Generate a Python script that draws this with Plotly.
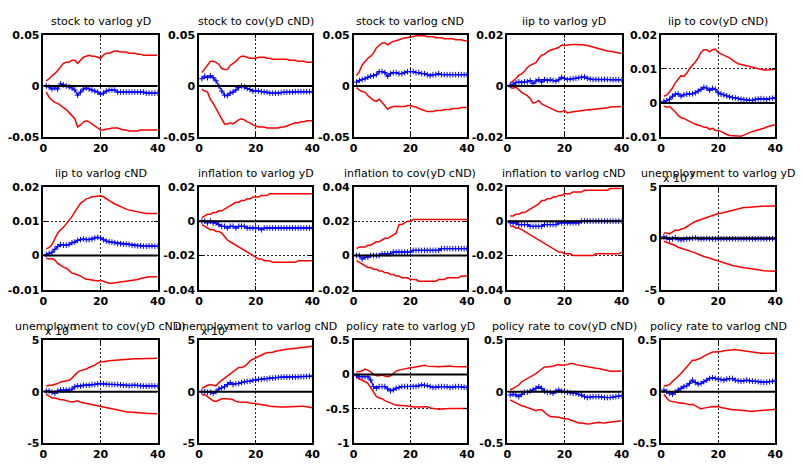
import plotly.graph_objects as go

horizons = list(range(1, 41))

titles = [
    "stock to varlog yD", "stock to cov(yD cND)", "stock to varlog cND",
    "iip to varlog yD", "iip to cov(yD cND)",
    "iip to varlog cND", "inflation to varlog yD", "inflation to cov(yD cND)",
    "inflation to varlog cND", "unemployment to varlog yD",
    "unemployment to cov(yD cND)", "unemployment to varlog cND",
    "policy rate to varlog yD", "policy rate to cov(yD cND)", "policy rate to varlog cND",
]

# ---- panel 1: stock to varlog yD
U1 = [0.005,0.007,0.010,0.012,0.015,0.019,0.022,0.023,0.023,0.025,0.025,0.022,0.025,0.028,0.029,0.030,0.029,0.029,0.028,0.027,0.030,0.032,0.032,0.033,0.034,0.034,0.033,0.033,0.033,0.032,0.032,0.032,0.031,0.031,0.030,0.030,0.030,0.030,0.030,0.030]
L1 = [-0.006,-0.011,-0.014,-0.016,-0.017,-0.019,-0.021,-0.023,-0.026,-0.029,-0.032,-0.040,-0.038,-0.035,-0.034,-0.035,-0.037,-0.039,-0.041,-0.043,-0.043,-0.042,-0.042,-0.041,-0.041,-0.041,-0.042,-0.043,-0.043,-0.044,-0.044,-0.044,-0.044,-0.043,-0.043,-0.043,-0.043,-0.043,-0.043,-0.043]
B1 = [0.000,-0.001,-0.003,-0.002,-0.003,0.002,0.001,0.000,-0.001,-0.002,-0.004,-0.009,-0.006,-0.003,-0.002,-0.003,-0.004,-0.005,-0.006,-0.008,-0.007,-0.005,-0.004,-0.004,-0.004,-0.006,-0.006,-0.006,-0.006,-0.006,-0.006,-0.006,-0.006,-0.006,-0.006,-0.007,-0.007,-0.007,-0.007,-0.007]
# ---- panel 2: stock to cov(yD cND)
U2 = [0.013,0.017,0.021,0.024,0.024,0.023,0.021,0.017,0.016,0.016,0.020,0.022,0.024,0.027,0.029,0.029,0.028,0.027,0.027,0.027,0.028,0.028,0.028,0.027,0.027,0.026,0.026,0.026,0.026,0.026,0.026,0.025,0.025,0.025,0.024,0.024,0.024,0.023,0.023,0.023]
L2 = [-0.003,-0.005,-0.006,-0.013,-0.017,-0.022,-0.028,-0.033,-0.037,-0.037,-0.036,-0.037,-0.035,-0.033,-0.032,-0.033,-0.035,-0.036,-0.038,-0.039,-0.040,-0.040,-0.040,-0.041,-0.041,-0.041,-0.041,-0.041,-0.040,-0.040,-0.039,-0.038,-0.037,-0.036,-0.036,-0.035,-0.035,-0.034,-0.034,-0.034]
B2 = [0.007,0.0095,0.008,0.010,0.008,0.005,0.000,-0.005,-0.009,-0.0095,-0.007,-0.006,-0.004,-0.0015,0.000,-0.001,-0.0025,-0.0035,-0.005,-0.0045,-0.005,-0.0055,-0.006,-0.006,-0.007,-0.007,-0.007,-0.007,-0.0065,-0.006,-0.006,-0.006,-0.006,-0.0055,-0.0055,-0.0055,-0.0055,-0.0055,-0.0055,-0.0057]
# ---- panel 3: stock to varlog cND
U3 = [0.010,0.014,0.0205,0.024,0.027,0.029,0.032,0.037,0.040,0.042,0.042,0.040,0.042,0.0435,0.044,0.045,0.046,0.047,0.047,0.048,0.048,0.049,0.049,0.049,0.049,0.048,0.048,0.048,0.047,0.047,0.047,0.046,0.046,0.046,0.046,0.045,0.045,0.045,0.044,0.044]
L3 = [-0.0015,-0.004,-0.0054,-0.006,-0.0095,-0.012,-0.014,-0.015,-0.013,-0.016,-0.019,-0.0227,-0.021,-0.020,-0.020,-0.020,-0.020,-0.020,-0.019,-0.019,-0.020,-0.0205,-0.022,-0.023,-0.024,-0.025,-0.025,-0.025,-0.024,-0.024,-0.024,-0.023,-0.023,-0.023,-0.022,-0.022,-0.022,-0.021,-0.021,-0.021]
B3 = [0.0038,0.0054,0.0063,0.007,0.0085,0.0095,0.010,0.011,0.014,0.014,0.013,0.0095,0.012,0.013,0.013,0.012,0.012,0.013,0.014,0.014,0.014,0.013,0.013,0.012,0.012,0.011,0.010,0.011,0.011,0.012,0.011,0.011,0.011,0.011,0.011,0.011,0.011,0.011,0.011,0.011]
# ---- panel 4: iip to varlog yD
U4 = [0.001,0.0019,0.0029,0.0042,0.0047,0.0057,0.0072,0.008,0.0085,0.0091,0.0108,0.012,0.0123,0.0133,0.0139,0.0142,0.0146,0.015,0.016,0.0158,0.016,0.0162,0.0162,0.0162,0.0162,0.0161,0.016,0.0158,0.0155,0.0152,0.0148,0.0145,0.014,0.0138,0.0136,0.0135,0.0133,0.0131,0.0129,0.0127]
L4 = [-0.0006,-0.0009,-0.0004,-0.0016,-0.0025,-0.0032,-0.0038,-0.005,-0.0067,-0.0063,-0.0057,-0.007,-0.0076,-0.0082,-0.0085,-0.0092,-0.0097,-0.0101,-0.0101,-0.0095,-0.0105,-0.0103,-0.0101,-0.0099,-0.0097,-0.0095,-0.0094,-0.0093,-0.0093,-0.0092,-0.0091,-0.009,-0.0089,-0.0087,-0.0085,-0.0082,-0.0081,-0.0081,-0.008,-0.008]
B4 = [0.0003,0.0006,0.0013,0.0016,0.0013,0.0016,0.0016,0.0021,0.0009,0.0019,0.0025,0.0015,0.0025,0.0021,0.0024,0.0021,0.0019,0.0024,0.0034,0.0029,0.0025,0.0027,0.0028,0.003,0.0032,0.0034,0.0035,0.003,0.0027,0.0025,0.0026,0.0025,0.0025,0.0026,0.0025,0.0025,0.0024,0.0025,0.0024,0.0024]
# ---- panel 5: iip to cov(yD cND)
U5 = [0.002,0.0024,0.0033,0.0044,0.0059,0.0071,0.008,0.0078,0.0087,0.0101,0.011,0.012,0.0132,0.0148,0.0156,0.0156,0.015,0.0156,0.0158,0.0148,0.0144,0.0139,0.0136,0.0132,0.0125,0.012,0.0115,0.0113,0.011,0.0108,0.0106,0.0104,0.0103,0.0101,0.0099,0.0097,0.0097,0.0097,0.0098,0.0099]
L5 = [-0.0009,-0.0012,-0.001,-0.0017,-0.0026,-0.0036,-0.0043,-0.0045,-0.005,-0.0055,-0.0058,-0.0062,-0.0064,-0.0067,-0.0071,-0.0071,-0.0077,-0.0074,-0.008,-0.008,-0.0083,-0.0088,-0.0092,-0.0095,-0.0096,-0.0096,-0.0096,-0.0097,-0.0094,-0.009,-0.0087,-0.0083,-0.0081,-0.0079,-0.0077,-0.0074,-0.007,-0.0067,-0.0065,-0.0064]
B5 = [0.0005,0.0007,0.0011,0.002,0.0026,0.0027,0.002,0.0024,0.0026,0.0027,0.0027,0.003,0.0035,0.004,0.0046,0.0044,0.0037,0.0043,0.004,0.003,0.0026,0.0024,0.0021,0.0018,0.0016,0.0015,0.0013,0.0011,0.001,0.0009,0.0008,0.0008,0.0011,0.0012,0.0013,0.0012,0.0011,0.0013,0.0014,0.0016]
# ---- panel 6: iip to varlog cND
U6 = [0.002,0.0023,0.0032,0.0048,0.0065,0.0075,0.0082,0.0092,0.0101,0.0113,0.0127,0.0141,0.0152,0.0158,0.0165,0.0167,0.0171,0.0172,0.0174,0.0174,0.0171,0.0165,0.016,0.0155,0.015,0.0146,0.0141,0.0138,0.0135,0.0132,0.013,0.0129,0.0127,0.0124,0.0123,0.0122,0.0122,0.0122,0.0122,0.0122]
L6 = [-0.0008,-0.001,-0.0009,-0.0013,-0.0023,-0.0029,-0.0034,-0.0037,-0.0044,-0.0051,-0.0053,-0.0056,-0.006,-0.0065,-0.0069,-0.007,-0.0072,-0.0072,-0.0074,-0.0072,-0.0075,-0.0079,-0.0081,-0.0081,-0.008,-0.0079,-0.0078,-0.0077,-0.0076,-0.0075,-0.0073,-0.0072,-0.007,-0.0067,-0.0065,-0.0062,-0.0062,-0.0062,-0.0062,-0.0062]
B6 = [0.0003,0.0006,0.0009,0.0018,0.0026,0.0032,0.003,0.003,0.0032,0.0037,0.0039,0.0044,0.0046,0.0048,0.0046,0.0046,0.0048,0.0051,0.0053,0.0051,0.0046,0.0042,0.004,0.0039,0.0037,0.0035,0.0034,0.0033,0.0033,0.0032,0.003,0.0029,0.0028,0.0028,0.0027,0.0027,0.0028,0.0028,0.0027,0.0027]
# ---- panel 7: inflation to varlog yD
U7 = [0.002,0.003,0.004,0.004,0.005,0.005,0.006,0.006,0.007,0.008,0.009,0.010,0.011,0.011,0.012,0.012,0.013,0.013,0.014,0.014,0.014,0.015,0.015,0.015,0.016,0.016,0.016,0.016,0.016,0.016,0.016,0.016,0.016,0.016,0.016,0.016,0.016,0.016,0.016,0.016]
L7 = [-0.002,-0.003,-0.004,-0.005,-0.005,-0.006,-0.006,-0.007,-0.009,-0.011,-0.012,-0.013,-0.014,-0.015,-0.016,-0.017,-0.018,-0.019,-0.020,-0.021,-0.022,-0.022,-0.023,-0.023,-0.023,-0.024,-0.024,-0.024,-0.024,-0.024,-0.024,-0.024,-0.024,-0.024,-0.023,-0.023,-0.023,-0.023,-0.023,-0.023]
B7 = [0.000,0.000,-0.001,0.000,-0.001,-0.001,-0.002,-0.003,-0.003,-0.004,-0.003,-0.003,-0.004,-0.003,-0.003,-0.003,-0.004,-0.004,-0.004,-0.004,-0.004,-0.005,-0.004,-0.004,-0.004,-0.004,-0.004,-0.004,-0.004,-0.004,-0.004,-0.004,-0.004,-0.004,-0.004,-0.004,-0.004,-0.004,-0.004,-0.004]
# ---- panel 8: inflation to cov(yD cND)
U8 = [0.004,0.005,0.005,0.005,0.006,0.006,0.007,0.008,0.008,0.009,0.010,0.010,0.011,0.012,0.013,0.018,0.018,0.019,0.020,0.020,0.021,0.021,0.021,0.021,0.021,0.021,0.021,0.021,0.021,0.021,0.021,0.021,0.021,0.021,0.021,0.021,0.021,0.021,0.021,0.021]
L8 = [-0.003,-0.004,-0.005,-0.006,-0.007,-0.007,-0.008,-0.008,-0.009,-0.009,-0.010,-0.010,-0.011,-0.011,-0.012,-0.012,-0.013,-0.013,-0.013,-0.014,-0.014,-0.014,-0.015,-0.015,-0.015,-0.015,-0.015,-0.015,-0.015,-0.014,-0.014,-0.014,-0.013,-0.013,-0.013,-0.013,-0.013,-0.012,-0.012,-0.012]
B8 = [0.000,0.000,-0.002,-0.001,-0.001,0.000,0.000,0.000,0.000,0.001,0.001,0.001,0.001,0.002,0.002,0.002,0.002,0.002,0.002,0.002,0.003,0.003,0.003,0.003,0.003,0.003,0.003,0.003,0.003,0.003,0.004,0.004,0.004,0.004,0.004,0.004,0.004,0.004,0.004,0.004]
# ---- panel 9: inflation to varlog cND
U9 = [0.003,0.003,0.004,0.004,0.005,0.005,0.006,0.007,0.008,0.009,0.010,0.012,0.012,0.013,0.013,0.014,0.014,0.015,0.015,0.016,0.016,0.016,0.017,0.017,0.017,0.017,0.018,0.018,0.018,0.018,0.018,0.018,0.018,0.018,0.018,0.019,0.019,0.019,0.019,0.019]
L9 = [-0.003,-0.003,-0.004,-0.004,-0.005,-0.006,-0.007,-0.008,-0.009,-0.010,-0.011,-0.012,-0.013,-0.014,-0.015,-0.016,-0.017,-0.018,-0.018,-0.019,-0.019,-0.019,-0.020,-0.020,-0.020,-0.020,-0.020,-0.020,-0.020,-0.020,-0.019,-0.019,-0.019,-0.019,-0.019,-0.019,-0.019,-0.019,-0.019,-0.018]
B9 = [-0.001,-0.001,-0.001,-0.002,-0.002,-0.002,-0.002,-0.003,-0.003,-0.003,-0.003,-0.003,-0.002,-0.002,-0.002,-0.002,-0.002,-0.001,-0.001,-0.001,-0.001,-0.001,-0.001,-0.001,-0.001,0,0,0,0,0,0,0,0,0,0,0,0,0,0,0]
# ---- panel 10: unemployment to varlog yD (x 10^-3)
U10 = [0.51,0.51,0.42,0.64,0.8,0.75,0.9,0.96,1.15,1.28,1.47,1.63,1.73,1.8,1.86,1.99,2.08,2.18,2.3,2.4,2.43,2.5,2.56,2.63,2.69,2.79,2.88,2.92,2.98,3.0,3.04,3.08,3.09,3.1,3.12,3.14,3.14,3.14,3.14,3.14]
L10 = [-0.29,-0.38,-0.54,-0.61,-0.7,-0.87,-0.96,-1.03,-1.09,-1.19,-1.28,-1.41,-1.54,-1.67,-1.76,-1.83,-1.92,-2.05,-2.15,-2.24,-2.3,-2.4,-2.47,-2.53,-2.63,-2.69,-2.76,-2.82,-2.85,-2.88,-2.94,-3.0,-3.04,-3.08,-3.11,-3.14,-3.16,-3.17,-3.19,-3.2]
B10 = [0.15,0.05,-0.1,-0.05,0.05,-0.1,-0.15,-0.1,-0.05,-0.05,0.0,0.05,-0.05,-0.05,-0.05,0.0,-0.05,-0.05,-0.05,-0.05,-0.05,-0.05,-0.05,-0.05,-0.05,-0.05,-0.05,-0.05,-0.05,-0.05,-0.05,-0.05,-0.05,-0.05,-0.05,-0.05,-0.05,-0.05,-0.05,-0.05]
# ---- panel 11: unemployment to cov(yD cND) (x 10^-3)
U11 = [0.53,0.62,0.62,0.69,0.78,0.94,1.0,1.0,1.1,1.31,1.56,1.88,2.03,2.1,2.19,2.34,2.44,2.56,2.75,2.88,2.9,2.97,2.98,3.0,3.03,3.06,3.06,3.06,3.1,3.13,3.15,3.17,3.19,3.19,3.19,3.19,3.2,3.2,3.21,3.22]
L11 = [-0.25,-0.47,-0.62,-0.62,-0.72,-0.78,-0.78,-0.88,-0.94,-1.0,-0.94,-0.88,-1.03,-1.09,-1.09,-1.16,-1.25,-1.31,-1.34,-1.41,-1.5,-1.56,-1.63,-1.69,-1.75,-1.81,-1.88,-1.94,-1.95,-1.97,-2.0,-2.03,-2.05,-2.06,-2.08,-2.09,-2.1,-2.11,-2.12,-2.13]
B11 = [0.06,0.06,-0.06,-0.16,0.06,0.16,0.16,0.16,0.16,0.25,0.47,0.56,0.53,0.62,0.62,0.62,0.69,0.69,0.75,0.78,0.75,0.72,0.7,0.69,0.69,0.69,0.66,0.62,0.6,0.56,0.6,0.62,0.6,0.56,0.55,0.53,0.55,0.56,0.55,0.53]
# ---- panel 12: unemployment to varlog cND (x 10^-3)
U12 = [0.31,0.47,0.62,0.69,0.62,0.56,0.88,1.1,1.31,1.5,1.72,1.94,2.13,2.34,2.34,2.44,2.66,2.97,3.13,3.28,3.44,3.53,3.66,3.75,3.75,3.81,3.91,3.97,4.0,4.06,4.1,4.13,4.16,4.19,4.22,4.25,4.28,4.31,4.34,4.38]
L12 = [-0.31,-0.31,-0.47,-0.69,-0.88,-0.94,-0.78,-0.69,-0.69,-0.69,-0.72,-0.78,-0.94,-1.0,-1.0,-1.03,-1.03,-1.09,-1.12,-1.16,-1.19,-1.25,-1.31,-1.34,-1.41,-1.44,-1.45,-1.47,-1.47,-1.47,-1.45,-1.44,-1.44,-1.44,-1.42,-1.41,-1.42,-1.44,-1.5,-1.56]
B12 = [0.0,0.0,-0.06,-0.06,-0.16,0.0,0.25,0.38,0.47,0.69,0.88,0.69,0.78,0.78,0.88,0.94,1.0,1.0,1.1,1.1,1.19,1.19,1.25,1.25,1.31,1.31,1.34,1.38,1.4,1.41,1.41,1.41,1.41,1.41,1.42,1.44,1.45,1.47,1.48,1.5]
# ---- panel 13: policy rate to varlog yD
U13 = [0.038,0.038,0.052,0.076,0.062,0.038,0.0,-0.019,-0.019,-0.01,-0.024,-0.033,-0.019,0.014,0.048,0.062,0.071,0.086,0.095,0.095,0.1,0.11,0.115,0.12,0.133,0.12,0.115,0.11,0.11,0.11,0.115,0.12,0.12,0.12,0.115,0.11,0.11,0.11,0.11,0.11]
L13 = [-0.033,-0.067,-0.081,-0.105,-0.13,-0.19,-0.257,-0.32,-0.343,-0.352,-0.38,-0.4,-0.414,-0.438,-0.448,-0.448,-0.452,-0.448,-0.452,-0.462,-0.471,-0.471,-0.467,-0.462,-0.462,-0.467,-0.486,-0.495,-0.505,-0.505,-0.5,-0.495,-0.495,-0.495,-0.495,-0.495,-0.495,-0.495,-0.495,-0.495]
B13 = [-0.02,-0.033,-0.033,-0.033,-0.033,-0.081,-0.176,-0.2,-0.176,-0.176,-0.176,-0.21,-0.238,-0.224,-0.2,-0.19,-0.176,-0.176,-0.176,-0.176,-0.176,-0.176,-0.165,-0.152,-0.157,-0.162,-0.176,-0.19,-0.185,-0.176,-0.176,-0.176,-0.18,-0.19,-0.185,-0.176,-0.176,-0.18,-0.185,-0.19]
# ---- panel 14: policy rate to cov(yD cND)
U14 = [0.016,0.032,0.048,0.064,0.096,0.111,0.127,0.143,0.153,0.175,0.197,0.217,0.239,0.239,0.239,0.245,0.255,0.261,0.255,0.255,0.261,0.271,0.271,0.261,0.255,0.249,0.245,0.239,0.234,0.229,0.226,0.223,0.215,0.207,0.202,0.197,0.198,0.199,0.2,0.2]
L14 = [-0.08,-0.096,-0.105,-0.121,-0.137,-0.143,-0.153,-0.166,-0.175,-0.185,-0.175,-0.175,-0.197,-0.223,-0.239,-0.239,-0.245,-0.248,-0.255,-0.261,-0.261,-0.271,-0.287,-0.293,-0.303,-0.303,-0.309,-0.312,-0.309,-0.303,-0.3,-0.296,-0.3,-0.303,-0.298,-0.293,-0.29,-0.287,-0.284,-0.28]
B14 = [-0.032,-0.025,-0.032,-0.048,-0.025,-0.006,-0.006,0.006,0.016,0.032,0.048,0.032,0.006,-0.006,-0.006,-0.016,0.006,0.016,0.006,0.0,-0.006,-0.01,-0.016,-0.016,-0.025,-0.032,-0.048,-0.057,-0.052,-0.048,-0.048,-0.048,-0.052,-0.057,-0.057,-0.057,-0.052,-0.048,-0.043,-0.038]
# ---- panel 15: policy rate to varlog cND
U15 = [0.057,0.057,0.07,0.096,0.121,0.143,0.175,0.207,0.239,0.271,0.303,0.303,0.312,0.325,0.344,0.357,0.376,0.382,0.382,0.382,0.389,0.395,0.398,0.4,0.408,0.408,0.402,0.398,0.393,0.389,0.382,0.376,0.373,0.37,0.37,0.37,0.37,0.37,0.37,0.37]
L15 = [-0.025,-0.064,-0.089,-0.096,-0.102,-0.105,-0.111,-0.111,-0.121,-0.127,-0.121,-0.134,-0.153,-0.166,-0.159,-0.153,-0.143,-0.143,-0.146,-0.143,-0.153,-0.159,-0.159,-0.166,-0.175,-0.175,-0.178,-0.185,-0.185,-0.185,-0.188,-0.191,-0.188,-0.185,-0.185,-0.185,-0.18,-0.175,-0.172,-0.169]
B15 = [0.016,0.0,-0.016,-0.025,-0.006,0.016,0.032,0.048,0.057,0.08,0.111,0.089,0.073,0.08,0.096,0.111,0.127,0.134,0.127,0.121,0.118,0.111,0.121,0.127,0.127,0.111,0.105,0.102,0.105,0.111,0.105,0.102,0.1,0.096,0.092,0.089,0.092,0.096,0.1,0.102]

uppers = [U1, U2, U3, U4, U5, U6, U7, U8, U9, U10, U11, U12, U13, U14, U15]
lowers = [L1, L2, L3, L4, L5, L6, L7, L8, L9, L10, L11, L12, L13, L14, L15]
centers = [B1, B2, B3, B4, B5, B6, B7, B8, B9, B10, B11, B12, B13, B14, B15]

y_ranges = [[-0.05, 0.05]] * 3 + [[-0.02, 0.02], [-0.01, 0.02], [-0.01, 0.02],
            [-0.04, 0.02], [-0.02, 0.04], [-0.04, 0.02]] + [[-5, 5]] * 3 + \
           [[-1, 0.5], [-0.5, 0.5], [-0.5, 0.5]]
y_ticks = [[-0.05, 0, 0.05]] * 3 + [[-0.02, 0, 0.02], [-0.01, 0, 0.01, 0.02], [-0.01, 0, 0.01, 0.02],
           [-0.04, -0.02, 0, 0.02], [-0.02, 0, 0.02, 0.04], [-0.04, -0.02, 0, 0.02]] + [[-5, 0, 5]] * 3 + \
          [[-1, -0.5, 0, 0.5], [-0.5, 0, 0.5], [-0.5, 0, 0.5]]
y_ticktext = [["-0.05", "0", "0.05"]] * 3 + [["-0.02", "0", "0.02"], ["-0.01", "0", "0.01", "0.02"],
              ["-0.01", "0", "0.01", "0.02"], ["-0.04", "-0.02", "0", "0.02"], ["-0.02", "0", "0.02", "0.04"],
              ["-0.04", "-0.02", "0", "0.02"]] + [["-5", "0", "5"]] * 3 + \
             [["-1", "-0.5", "0", "0.5"], ["-0.5", "0", "0.5"], ["-0.5", "0", "0.5"]]
exponent_label = [False] * 9 + [True] * 3 + [False] * 3
x_ticks = [0, 20, 40]

W, H = 802, 465
col_left = [40, 198, 355, 511, 667]
col_right = [156, 313, 470, 627, 783]
row_top = [29.5, 186, 343.5]
row_bottom = [135, 292, 450]

FONT = "DejaVu Sans"
fig = go.Figure()
layout = dict(width=W, height=H, margin=dict(l=0, r=0, t=0, b=0),
              paper_bgcolor="white", plot_bgcolor="white", showlegend=False)
annotations = []

for i in range(15):
    r, c = divmod(i, 5)
    n = i + 1
    xs = "x" if n == 1 else f"x{n}"
    ys = "y" if n == 1 else f"y{n}"
    xk = "xaxis" if n == 1 else f"xaxis{n}"
    yk = "yaxis" if n == 1 else f"yaxis{n}"
    common = dict(showline=True, mirror="ticks", linecolor="black", linewidth=1.5,
                  ticks="inside", ticklen=4, tickwidth=1, tickcolor="black",
                  showgrid=True, gridcolor="#222", griddash="2px,2px", gridwidth=1,
                  zeroline=False,
                  tickfont=dict(family=FONT, size=11, color="black", weight="bold"))
    layout[xk] = dict(domain=[col_left[c] / W, col_right[c] / W], anchor=ys,
                      range=[0, 40], tickvals=x_ticks, ticktext=[str(v) for v in x_ticks], **common)
    layout[yk] = dict(domain=[1 - row_bottom[r] / H, 1 - row_top[r] / H], anchor=xs,
                      range=y_ranges[i], tickvals=y_ticks[i], ticktext=y_ticktext[i], **common)
    for band in (uppers[i], lowers[i]):
        fig.add_trace(go.Scatter(x=horizons, y=band, mode="lines", xaxis=xs, yaxis=ys,
                                 line=dict(color="red", width=1.5)))
    fig.add_trace(go.Scatter(x=horizons, y=centers[i], mode="lines+markers", xaxis=xs, yaxis=ys,
                             line=dict(color="blue", width=1.3),
                             marker=dict(symbol="cross-thin", size=4, color="blue",
                                         line=dict(width=1, color="blue"))))
    fig.add_trace(go.Scatter(x=[0, 40], y=[0, 0], mode="lines", xaxis=xs, yaxis=ys,
                             line=dict(color="black", width=2)))
    if exponent_label[i]:
        annotations.append(dict(xref=f"{xs} domain", yref=f"{ys} domain", x=0, y=1,
                                xanchor="left", yanchor="bottom", yshift=0, showarrow=False,
                                text="x 10<sup>-3</sup>",
                                font=dict(family=FONT, size=11, color="black")))
    annotations.append(dict(xref=f"{xs} domain", yref=f"{ys} domain", x=0.5, y=1,
                            xanchor="center", yanchor="bottom", yshift=5, showarrow=False,
                            text=titles[i], font=dict(family=FONT, size=11, color="black")))

layout["annotations"] = annotations
fig.update_layout(**layout)
fig.write_html("out.html")
